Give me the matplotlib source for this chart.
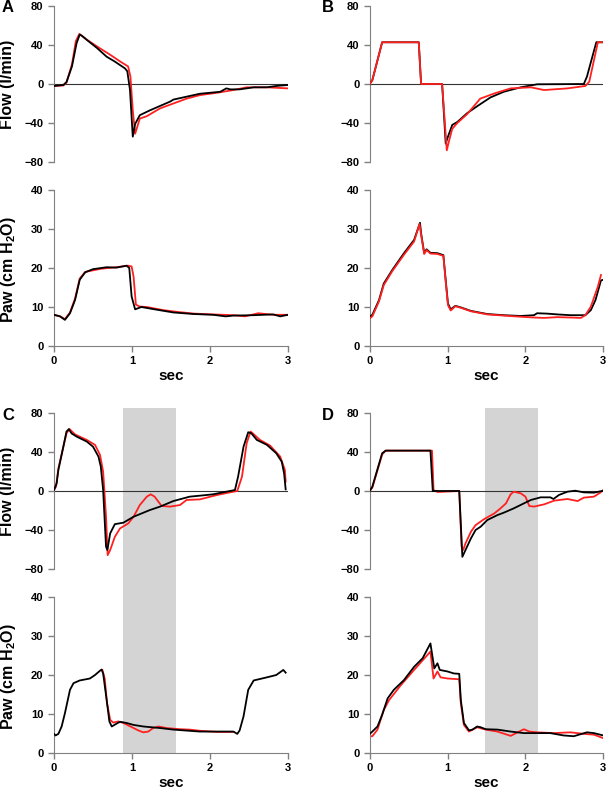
import matplotlib.pyplot as plt
from matplotlib.patches import Rectangle
from matplotlib.transforms import blended_transform_factory

plt.rcParams['font.family'] = ['Liberation Sans', 'DejaVu Sans']
plt.rcParams['font.weight'] = 'bold'
plt.rcParams['mathtext.default'] = 'regular'

# ---- panel A ----
a_flow_blk_t = [0, 0.12, 0.16, 0.23, 0.29, 0.33, 0.355, 0.44, 0.55, 0.675, 0.78, 0.91, 0.94, 0.974, 1.01, 1.04, 1.10,
                1.23, 1.49, 1.53, 1.70, 1.87, 2.13, 2.21, 2.26, 2.38, 2.56, 2.73, 2.85, 3.0]
a_flow_blk = [-2, -1, 2, 18, 42, 50.7, 49.6, 44, 37, 28, 23, 16, 13, -6, -54, -41, -32,
              -27, -18, -16, -13, -10, -8, -4.5, -5.5, -5.5, -3.4, -3.4, -2, -1]
a_flow_red_t = [0, 0.12, 0.16, 0.23, 0.28, 0.325, 0.42, 0.55, 0.72, 0.85, 0.95, 0.98, 1.01, 1.04, 1.06, 1.10, 1.19,
                1.36, 1.53, 1.70, 1.87, 2.09, 2.30, 2.47, 2.73, 3.0]
a_flow_red = [-2, -1.5, 1.4, 20, 44, 51.4, 45.5, 38.6, 30, 23, 18, 7.6, -27, -51, -46, -35.5, -33,
              -25, -20, -15, -11.4, -9, -6.2, -3.4, -3.4, -4.5]
a_paw_blk_t = [0, 0.077, 0.14, 0.205, 0.27, 0.33, 0.40, 0.50, 0.675, 0.80, 0.93, 0.965, 0.995, 1.04, 1.08, 1.12,
               1.32, 1.53, 1.79, 2.04, 2.20, 2.30, 2.56, 2.81, 2.90, 3.0]
a_paw_blk = [8, 7.6, 6.7, 8.4, 11.8, 17, 18.9, 19.7, 20.2, 20.1, 20.6, 20, 12.7, 9.4, 9.7, 10,
             9.3, 8.6, 8.2, 8, 7.6, 7.8, 7.9, 8.1, 7.6, 8]
a_paw_red_t = [0, 0.077, 0.14, 0.205, 0.27, 0.33, 0.40, 0.60, 0.80, 0.95, 0.995, 1.02, 1.05, 1.10, 1.19,
               1.40, 1.60, 1.80, 2.04, 2.30, 2.45, 2.62, 2.81, 3.0]
a_paw_red = [8, 7.6, 6.9, 8.6, 12.2, 17.3, 19, 19.8, 20.2, 20.6, 20.4, 17.8, 10.6, 10.1, 10,
             9.2, 8.7, 8.3, 8.1, 7.9, 7.6, 8.4, 8, 8]

# ---- panel B ----
b_flow_blk_t = [0, 0.034, 0.16, 0.63, 0.66, 0.93, 0.976, 1.005, 1.06, 1.125, 1.25, 1.38, 1.55, 1.72, 1.94, 2.15,
                2.75, 2.79, 2.91, 3.0]
b_flow_blk = [0, 4, 42.8, 42.8, 0, 0, -61, -54, -42, -39, -30, -22.8, -13.8, -8, -3.4, -0.3,
              0, 7.6, 42.8, 42.8]
b_flow_red_t = [0, 0.034, 0.16, 0.63, 0.66, 0.93, 0.99, 1.02, 1.06, 1.125, 1.25, 1.42, 1.60, 1.81, 2.07, 2.24,
                2.54, 2.77, 2.82, 2.93, 3.0]
b_flow_red = [0, 4, 42.8, 42.8, 0, 0, -68, -58, -46, -40, -31, -15, -9.7, -4.5, -3.4, -6.2,
              -4.5, -2, 2.4, 42.8, 42.8]
b_paw_blk_t = [0, 0.034, 0.12, 0.18, 0.29, 0.44, 0.57, 0.646, 0.66, 0.70, 0.73, 0.78, 0.87, 0.946, 0.976, 1.005,
               1.04, 1.10, 1.17, 1.30, 1.51, 1.72, 1.94, 2.11, 2.15, 2.28, 2.41, 2.58, 2.77, 2.84, 2.90, 2.97, 3.0]
b_paw_blk = [7.5, 8, 11.8, 16, 19.5, 23.8, 27.2, 31.6, 28.9, 23.8, 24.8, 23.9, 23.8, 23.3, 16.9, 10.9,
             9.4, 10.3, 9.9, 9, 8.2, 7.9, 7.7, 7.9, 8.4, 8.3, 8.1, 7.9, 7.9, 9.2, 11.8, 16.8, 17]
b_paw_red_t = [0, 0.034, 0.12, 0.18, 0.29, 0.44, 0.57, 0.64, 0.66, 0.70, 0.73, 0.78, 0.87, 0.946, 0.976, 1.005,
               1.04, 1.10, 1.17, 1.30, 1.51, 1.72, 1.94, 2.11, 2.24, 2.41, 2.58, 2.71, 2.77, 2.84, 2.93, 2.97]
b_paw_red = [7.1, 7.6, 11.5, 15.6, 19.2, 23.4, 26.8, 31.3, 28.5, 23.6, 24.6, 23.7, 23.6, 23.1, 16.5, 10.5,
             9.1, 10.2, 9.8, 8.9, 8.1, 7.8, 7.5, 7.3, 7.2, 7.4, 7.3, 7.2, 7.9, 10.1, 15.2, 18.2]

# ---- panel C ----
c_flow_blk_t = [0, 0.034, 0.056, 0.12, 0.16, 0.19, 0.226, 0.29, 0.42, 0.50, 0.57, 0.60, 0.63, 0.667, 0.684, 0.72,
                0.78, 0.89, 1.02, 1.23, 1.36, 1.53, 1.74, 1.87, 2.04, 2.21, 2.32, 2.36, 2.43, 2.49, 2.53, 2.60,
                2.73, 2.85, 2.92, 2.95, 2.97]
c_flow_blk = [1, 7.9, 21.6, 45.5, 61, 63.4, 59, 55.8, 50.7, 45.5, 35.3, 25, 1, -57, -60.6, -43.5,
              -34, -32.5, -26.4, -19.5, -16, -10.3, -5.8, -4.8, -3.4, -0.7, 1, 14.7, 45.5, 60.3, 59.2, 52.4,
              47.3, 38.7, 30, 18, 1.7]
c_flow_red_t = [0, 0.026, 0.056, 0.12, 0.16, 0.197, 0.27, 0.42, 0.526, 0.59, 0.63, 0.667, 0.688, 0.72, 0.78, 0.846,
                0.953, 1.02, 1.10, 1.19, 1.24, 1.29, 1.38, 1.49, 1.615, 1.70, 1.87, 2.09, 2.30, 2.35, 2.41, 2.47,
                2.52, 2.55, 2.64, 2.77, 2.90, 2.96, 2.97]
c_flow_red = [1, 4.5, 23, 45.5, 59, 63.7, 58, 52.4, 47.3, 37, 19.9, -26.4, -65.8, -60.6, -47, -38.4,
              -33.2, -26.4, -14.4, -5.8, -3.4, -5.8, -15.4, -16, -14.4, -9.2, -8.6, -4.1, -0.7, 0, 14.7, 49,
              61, 59, 52.4, 46.6, 35.3, 21.6, 9.6]
c_paw_blk_t = [0, 0.02, 0.056, 0.098, 0.14, 0.205, 0.25, 0.33, 0.46, 0.526, 0.59, 0.61, 0.63, 0.675, 0.71, 0.74,
               0.80, 0.846, 0.93, 1.02, 1.145, 1.36, 1.53, 1.87, 2.09, 2.30, 2.35, 2.38, 2.43, 2.49, 2.56, 2.73,
               2.85, 2.94, 2.97]
c_paw_blk = [4.9, 4.5, 4.9, 6.8, 10.2, 16.2, 17.9, 18.6, 19.1, 20, 21.1, 21.4, 20.4, 13.6, 8.1, 6.8,
             7.5, 8, 7.7, 7.2, 6.8, 6.4, 6, 5.5, 5.5, 5.5, 4.9, 5.8, 9.4, 16.2, 18.6, 19.4,
             20, 21.3, 20.6]
c_paw_red_t = [0.62, 0.65, 0.68, 0.72, 0.76, 0.825, 0.89, 1.0, 1.08, 1.145, 1.21, 1.27, 1.34, 1.44, 1.615, 1.74,
               1.87, 2.09, 2.30]
c_paw_red = [21.3, 19.1, 12.8, 8.5, 7.8, 8.1, 7.7, 6.6, 5.8, 5.3, 5.5, 6.4, 6.8, 6.4, 6.1, 6,
             5.7, 5.4, 5.4]

# ---- panel D ----
d_flow_blk_t = [0, 0.034, 0.16, 0.205, 0.78, 0.81, 1.15, 1.19, 1.23, 1.30, 1.36, 1.425, 1.51, 1.64, 1.72, 1.85,
                1.98, 2.07, 2.195, 2.32, 2.36, 2.43, 2.54, 2.64, 2.75, 2.88, 3.0]
d_flow_blk = [0, 4.5, 38.7, 41.4, 41.4, 0, 0, -67.5, -60.6, -48.6, -40, -36.6, -29.8, -24.7, -22.3, -17.8,
              -12.7, -9.2, -6.5, -6.5, -8.2, -4.1, -0.7, 0.3, -1.4, -1.7, 0.3]
d_flow_red_t = [0, 0.034, 0.16, 0.205, 0.80, 0.82, 0.87, 1.15, 1.18, 1.20, 1.23, 1.30, 1.36, 1.47, 1.60, 1.68,
                1.75, 1.81, 1.85, 1.94, 2.0, 2.05, 2.11, 2.24, 2.37, 2.54, 2.67, 2.75, 2.88, 2.96, 3.0]
d_flow_red = [0, 3.5, 37.5, 41.4, 41.4, 1, -1, 0, -57, -60.6, -53.8, -41.8, -35, -28.8, -23, -17.8,
              -12.7, -3.4, -0.7, -2.4, -5.8, -15.4, -16, -13.7, -9.9, -8.2, -10.3, -6.8, -5.8, -1.7, 1]
d_paw_blk_t = [0, 0.034, 0.10, 0.16, 0.23, 0.31, 0.44, 0.57, 0.68, 0.78, 0.80, 0.83, 0.87, 0.90, 1.0, 1.08,
               1.15, 1.17, 1.21, 1.275, 1.32, 1.38, 1.425, 1.49, 1.64, 1.81, 1.98, 2.15, 2.32, 2.49, 2.62, 2.79,
               2.88, 3.0]
d_paw_blk = [4.9, 5.5, 6.8, 9.8, 14, 16.2, 18.7, 22.1, 24.3, 28.1, 25.5, 21.7, 23, 21.3, 20.9, 20.4,
             20.3, 13.6, 7.7, 5.8, 6, 6.8, 6.6, 6.1, 6, 5.5, 5.1, 5.1, 5.1, 4.5, 4.3, 5.3,
             5.1, 4.5]
d_paw_red_t = [0, 0.034, 0.10, 0.18, 0.25, 0.40, 0.57, 0.78, 0.82, 0.87, 0.91, 1.0, 1.15, 1.17, 1.21, 1.275,
               1.38, 1.49, 1.64, 1.81, 1.90, 1.98, 2.05, 2.15, 2.36, 2.58, 2.75, 2.88, 3.0]
d_paw_red = [4.3, 4.3, 6, 11, 13.6, 17.4, 21.3, 26, 19.1, 20.9, 19.4, 19.1, 18.9, 12.8, 7.2, 5.5,
             6.6, 6, 5.5, 4.4, 5.3, 6.1, 5.5, 5.3, 5.1, 5.3, 4.9, 4.7, 3.8]

# gray shaded intervals (sec) for C and D
c_shade = [0.887, 1.562]
d_shade = [1.481, 2.165]

flow_ticks = [-80, -40, 0, 40, 80]
paw_ticks = [0, 10, 20, 30, 40]
sec_ticks = [0, 1, 2, 3]

W, H = 608, 790
fig = plt.figure(figsize=(W / 100, H / 100), dpi=100)

col_left = [54, 369.7]
col_width = [234, 233.6]
flow_top = [6, 413]
paw_top = [190, 597]
ax_h = 156

spine_col = '#808080'


def style_axis(ax, flow, left_col):
    for s in ['top', 'right']:
        ax.spines[s].set_visible(False)
    ax.spines['left'].set_color(spine_col)
    ax.spines['bottom'].set_color(spine_col)
    ax.tick_params(colors=spine_col, labelcolor='black', length=4, width=1, labelsize=8)
    ax.set_xlim(0, 3)
    if flow:
        ax.spines['bottom'].set_visible(False)
        ax.set_ylim(-80, 80)
        ax.set_yticks(flow_ticks)
        ax.set_xticks([])
        ax.axhline(0, color='#333333', lw=0.8, zorder=1)
        if left_col:
            ax.set_ylabel('Flow (l/min)', fontsize=11.5, fontweight='bold')
            ax.yaxis.set_label_coords(-0.165, 0.5)
    else:
        ax.set_ylim(0, 40)
        ax.set_yticks(paw_ticks)
        ax.set_xticks(sec_ticks)
        ax.set_xlabel('sec', fontsize=11, fontweight='bold', labelpad=2)
        if left_col:
            ax.set_ylabel('Paw (cm H$_2$O)', fontsize=11.5, fontweight='bold')
            ax.yaxis.set_label_coords(-0.155, 0.49)
    for lab in ax.get_xticklabels() + ax.get_yticklabels():
        lab.set_fontweight('bold')


panels = [
    ('A', 0, 0, (a_flow_blk_t, a_flow_blk, a_flow_red_t, a_flow_red),
     (a_paw_blk_t, a_paw_blk, a_paw_red_t, a_paw_red), None),
    ('B', 0, 1, (b_flow_blk_t, b_flow_blk, b_flow_red_t, b_flow_red),
     (b_paw_blk_t, b_paw_blk, b_paw_red_t, b_paw_red), None),
    ('C', 1, 0, (c_flow_blk_t, c_flow_blk, c_flow_red_t, c_flow_red),
     (c_paw_blk_t, c_paw_blk, c_paw_red_t, c_paw_red), c_shade),
    ('D', 1, 1, (d_flow_blk_t, d_flow_blk, d_flow_red_t, d_flow_red),
     (d_paw_blk_t, d_paw_blk, d_paw_red_t, d_paw_red), d_shade),
]

for name, row, col, flow_data, paw_data, shade in panels:
    x0 = col_left[col] / W
    w = col_width[col] / W
    h = ax_h / H
    ax_f = fig.add_axes([x0, 1 - (flow_top[row] + ax_h) / H, w, h])
    ax_p = fig.add_axes([x0, 1 - (paw_top[row] + ax_h) / H, w, h])
    ax_f.patch.set_alpha(0)
    ax_p.patch.set_alpha(0)

    red_z = 4 if name == 'B' else 2
    for ax, (tb, yb, tr, yr), flow in [(ax_f, flow_data, True), (ax_p, paw_data, False)]:
        ax.plot(tr, yr, color='#ff2020', lw=1.3, zorder=red_z)
        ax.plot(tb, yb, color='black', lw=1.3, zorder=3)
        style_axis(ax, flow, col == 0)

    if shade is not None:
        tr = blended_transform_factory(ax_f.transData, fig.transFigure)
        y_bot = 1 - (paw_top[row] + ax_h) / H
        y_top = 1 - (flow_top[row] - 5) / H
        fig.patches.append(Rectangle((shade[0], y_bot), shade[1] - shade[0], y_top - y_bot,
                                     transform=tr, facecolor='#d4d4d4', edgecolor='none', zorder=-1))

    fig.text((col_left[col] - 54 + 2) / W if col == 0 else (col_left[col] - 48) / W,
             1 - (flow_top[row] + 2) / H, name, fontsize=12, fontweight='bold', va='center', ha='left')

fig.savefig('out.png', dpi=100)
